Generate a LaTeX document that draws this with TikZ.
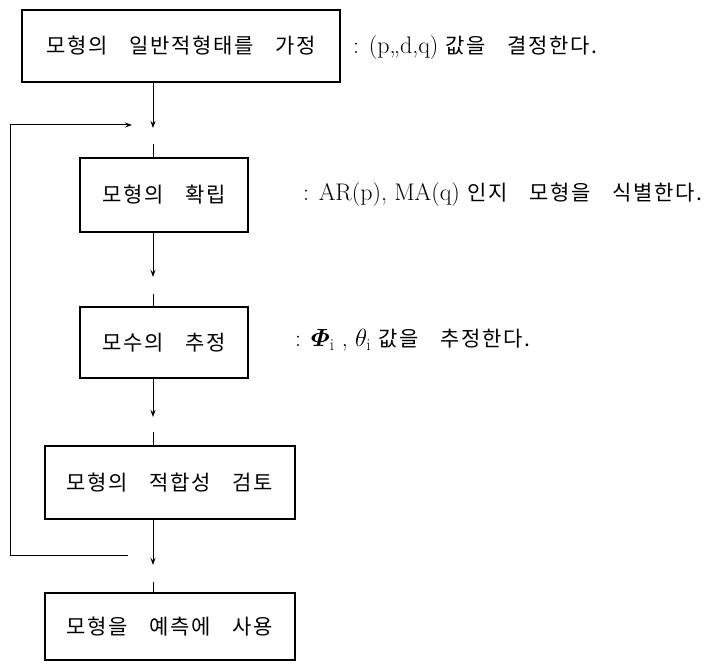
\documentclass[tikz,border=0pt]{standalone}
\usepackage{amsmath}
\usepackage{fontspec}
\newfontfamily\kr{Noto Sans CJK KR}[LetterSpace=8,WordSpace=3.4]
\usetikzlibrary{arrows.meta, positioning}

\begin{document}
\begin{tikzpicture}[
  x=1pt, y=-1pt,
  box/.style={draw, line width=1.1pt, inner sep=0pt,
              font=\kr\fontsize{21}{24}\selectfont},
  note/.style={anchor=west, inner sep=0pt, font=\fontsize{24}{27}\selectfont},
  arr/.style={-{Stealth[length=7pt, width=5pt]}, line width=1pt},
  tick/.style={line width=1pt}
]
  \useasboundingbox (0,0) rectangle (728,666);

  \node[box, minimum width=318pt, minimum height=72pt] (assume) at (181,46) {모형의 일반적형태를 가정};
  \node[box, minimum width=168pt, minimum height=74pt] (ident) at (164,195) {모형의 확립};
  \node[box, minimum width=168pt, minimum height=71pt] (estim) at (164,342.5) {모수의 추정};
  \node[box, minimum width=250pt, minimum height=73pt] (check) at (170,482.5) {모형의 적합성 검토};
  \node[box, minimum width=250pt, minimum height=67pt] (use) at (170,626.5) {모형을 예측에 사용};

  \node[note] (assumelbl) at (353,48) {: (p,,d,q) {\kr\fontsize{21}{24}\selectfont 값을 결정한다.}};
  \node[note] (identlbl) at (303,195) {: AR(p), MA(q) {\kr\fontsize{21}{24}\selectfont 인지 모형을 식별한다.}};
  \node[note] (estimlbl) at (295,340)
    {: $\boldsymbol{\varPhi}_{\mathrm{i}}$ , $\theta_{\mathrm{i}}$ {\kr\fontsize{21}{24}\selectfont 값을 추정한다.}};

  % arrow tips below each box
  \coordinate (tip1) at (153,128);
  \coordinate (tip2) at (153,277);
  \coordinate (tip3) at (153,417);
  \coordinate (tip4) at (153,565);

  \draw[arr] (assume.south -| tip1) -- (tip1);
  \draw[arr] (ident.south -| tip2) -- (tip2);
  \draw[arr] (estim.south -| tip3) -- (tip3);
  \draw[arr] (check.south -| tip4) -- (tip4);

  \draw[tick] (ident.north -| tip1) -- ++(0,-13);
  \draw[tick] (estim.north -| tip2) -- ++(0,-12);
  \draw[tick] (check.north -| tip3) -- ++(0,-13);
  \draw[tick] (use.north -| tip4) -- ++(0,-10);

  % feedback loop
  \coordinate (fbend) at (128,555);
  \coordinate (fbtip) at (132,125);
  \draw[arr] (fbend) -- ++(-118,0) |- (fbtip);
\end{tikzpicture}
\end{document}
